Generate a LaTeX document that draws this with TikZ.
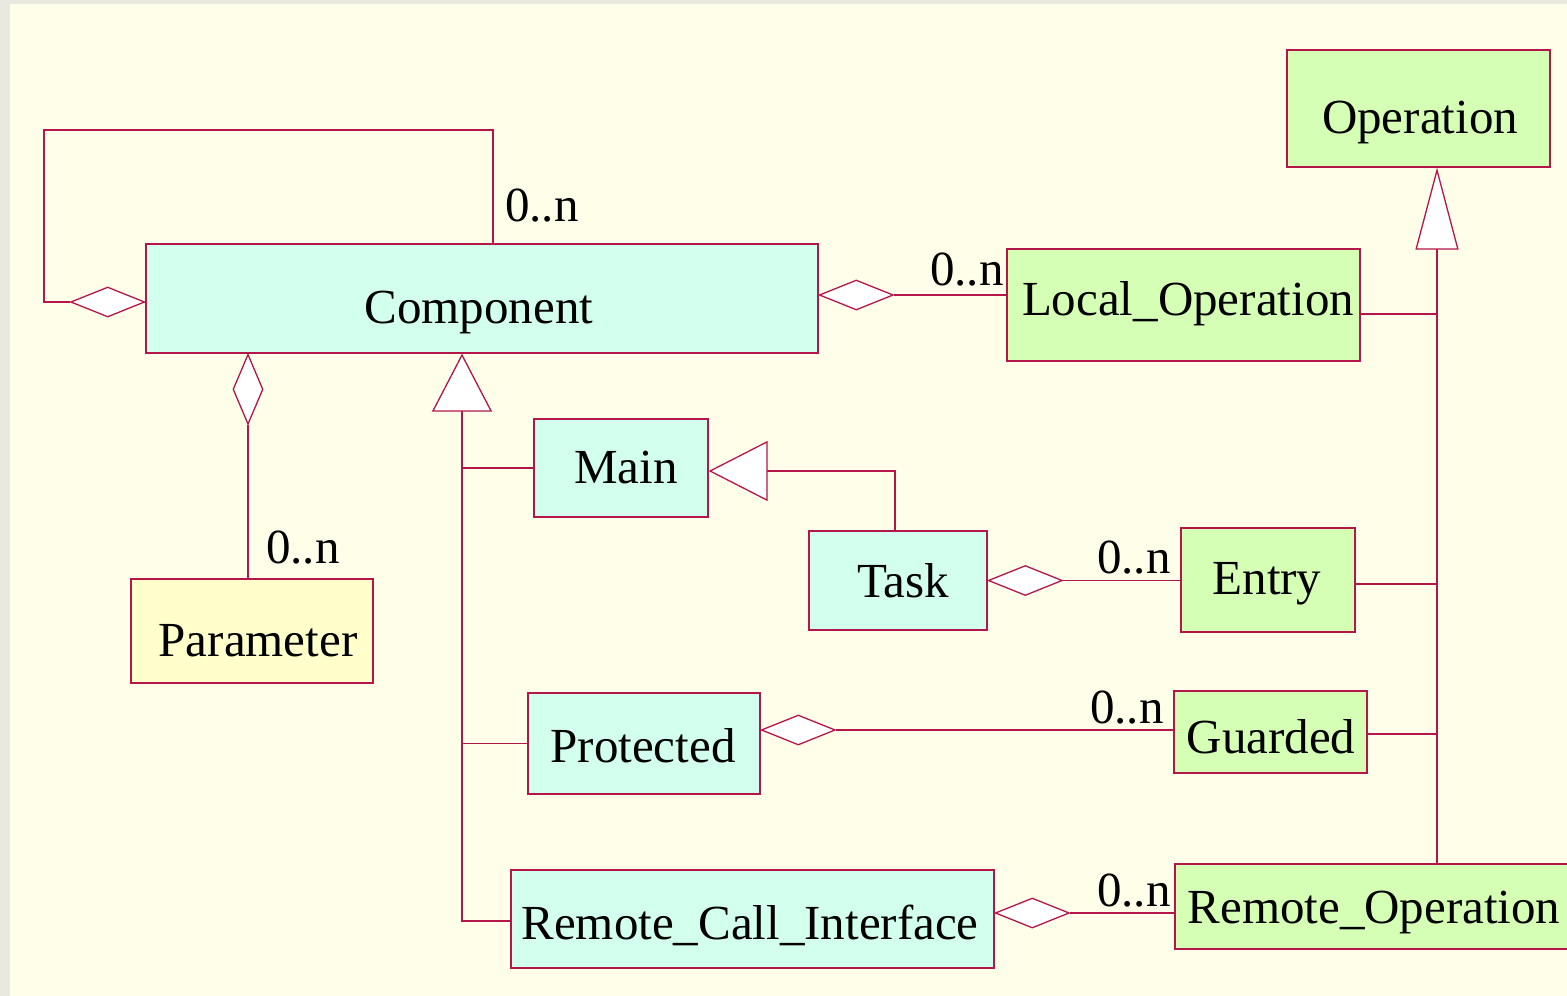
\documentclass[tikz,border=0pt]{standalone}
\usepackage{fontspec}
\setmainfont{Liberation Serif}
\usetikzlibrary{arrows.meta,shapes.geometric}
\definecolor{bg}{HTML}{FFFEE9}
\definecolor{edge}{HTML}{E9E9DF}
\definecolor{ln}{HTML}{B5164A}
\definecolor{cy}{HTML}{D3FFEE}
\definecolor{gr}{HTML}{D5FFB5}
\definecolor{ye}{HTML}{FFFFCC}
\tikzset{
  box/.style={draw=ln, line width=1.3pt, inner sep=0pt, rectangle},
  txt/.style={inner sep=0pt, anchor=base, font=\fontsize{49}{58}\selectfont},
  card/.style={inner sep=0pt, anchor=base west, font=\fontsize{49}{58}\selectfont},
  assoc/.style={draw=ln, line width=1.3pt},
  agg/.style={diamond, draw=ln, fill=white, line width=1.3pt, inner sep=0pt, minimum width=74pt, minimum height=30pt},
  aggv/.style={diamond, draw=ln, fill=white, line width=1.3pt, inner sep=0pt, minimum width=30pt, minimum height=70pt},
  genop/.style={draw=ln, line width=1.3pt, -{Triangle[length=82pt, width=43pt, fill=white]}},
  gencomp/.style={draw=ln, line width=1.3pt, -{Triangle[length=58pt, width=60pt, fill=white]}},
  genmain/.style={draw=ln, line width=1.3pt, -{Triangle[length=59pt, width=60pt, fill=white]}}
}
\begin{document}
\begin{tikzpicture}[x=1pt,y=-1pt]
\useasboundingbox (0,0) rectangle (1567,996);
\fill[bg] (0,0) rectangle (1567,996);
\fill[edge] (0,0) rectangle (10,996);
\fill[edge] (0,0) rectangle (1567,4);

% classes
\node[box, fill=gr, minimum width=263pt, minimum height=117pt] (op) at (1418.5,108.5) {};
\node[box, fill=cy, minimum width=672pt, minimum height=109pt] (comp) at (482,298.5) {};
\node[box, fill=gr, minimum width=353pt, minimum height=112pt] (lop) at (1183.5,305) {};
\node[box, fill=cy, minimum width=174pt, minimum height=98pt] (main) at (621,468) {};
\node[box, fill=cy, minimum width=178pt, minimum height=99pt] (task) at (898,580.5) {};
\node[box, fill=gr, minimum width=174pt, minimum height=104pt] (entry) at (1268,580) {};
\node[box, fill=ye, minimum width=242pt, minimum height=104pt] (param) at (252,631) {};
\node[box, fill=cy, minimum width=232pt, minimum height=101pt] (prot) at (644,743.5) {};
\node[box, fill=gr, minimum width=193pt, minimum height=82pt] (guard) at (1270.5,732) {};
\node[box, fill=cy, minimum width=483pt, minimum height=98pt] (rci) at (752.5,919) {};
\node[box, fill=gr, minimum width=405pt, minimum height=85pt] (remop) at (1377.5,906.5) {};

% class names
\node[txt] (opt) at (1420,133) {Operation};
\node[txt] (compt) at (479,323) {Component};
\node[txt] (lopt) at (1188,315) {Local\_Operation};
\node[txt] (maint) at (626,483) {Main};
\node[txt] (taskt) at (903,597) {Task};
\node[txt] (entryt) at (1267,594) {Entry};
\node[txt] (paramt) at (258,656) {Parameter};
\node[txt] (prott) at (643,762) {Protected};
\node[txt] (guardt) at (1271,753) {Guarded};
\node[txt] (rcit) at (750,939) {Remote\_Call\_Interface};
\node[txt] (remopt) at (1374,923) {Remote\_Operation};

% helper coordinates
\coordinate (opx) at (1437,0);
\coordinate (cx) at (462,0);
\coordinate (lx) at (493,0);
\coordinate (px) at (248,0);
\coordinate (tx) at (895,0);
\coordinate (loopc) at (44,130);

% generalisation to Operation
\draw[genop] (remop.north -| opx) -- (op.south -| opx);
\draw[assoc] ([yshift=-9pt]lop.east) -- ([yshift=-9pt]lop.east -| opx);
\draw[assoc] ([yshift=-4pt]entry.east) -- ([yshift=-4pt]entry.east -| opx);
\draw[assoc] ([yshift=-2pt]guard.east) -- ([yshift=-2pt]guard.east -| opx);

% generalisation to Component
\draw[gencomp] ([yshift=-2pt]rci.west) -| (comp.south -| cx);
\draw[assoc] (main.west) -- (main.west -| cx);
\draw[assoc] (prot.west) -- (prot.west -| cx);

% Task -> Main
\draw[genmain] (task.north -| tx) |- ([yshift=-3pt]main.east);

% aggregations
\node[agg, anchor=east] (d1) at ([yshift=-3.5pt]comp.west) {};
\draw[assoc] (d1.west) -| (loopc) -| (comp.north -| lx);
\node[card] (c1) at (505,221) {0..n};

\node[agg, anchor=west] (d2) at ([yshift=3.5pt]comp.east) {};
\draw[assoc] (d2.east) -- (d2.east -| lop.west);
\node[card] (c2) at (930,285) {0..n};

\node[aggv, anchor=north] (d3) at (comp.south -| px) {};
\draw[assoc] (d3.south) -- (d3.south |- param.north);
\node[card] (c3) at (266,563) {0..n};

\node[agg, anchor=west] (d4) at (task.east) {};
\draw[assoc] (d4.east) -- (d4.east -| entry.west);
\node[card] (c4) at (1097,573) {0..n};

\node[agg, anchor=west] (d5) at ([yshift=13.5pt]prot.east) {};
\draw[assoc] (d5.east) -- (d5.east -| guard.west);
\node[card] (c5) at (1090,723) {0..n};

\node[agg, anchor=west] (d6) at ([yshift=6pt]rci.east) {};
\draw[assoc] (d6.east) -- (d6.east -| remop.west);
\node[card] (c6) at (1097,906) {0..n};
\end{tikzpicture}
\end{document}
